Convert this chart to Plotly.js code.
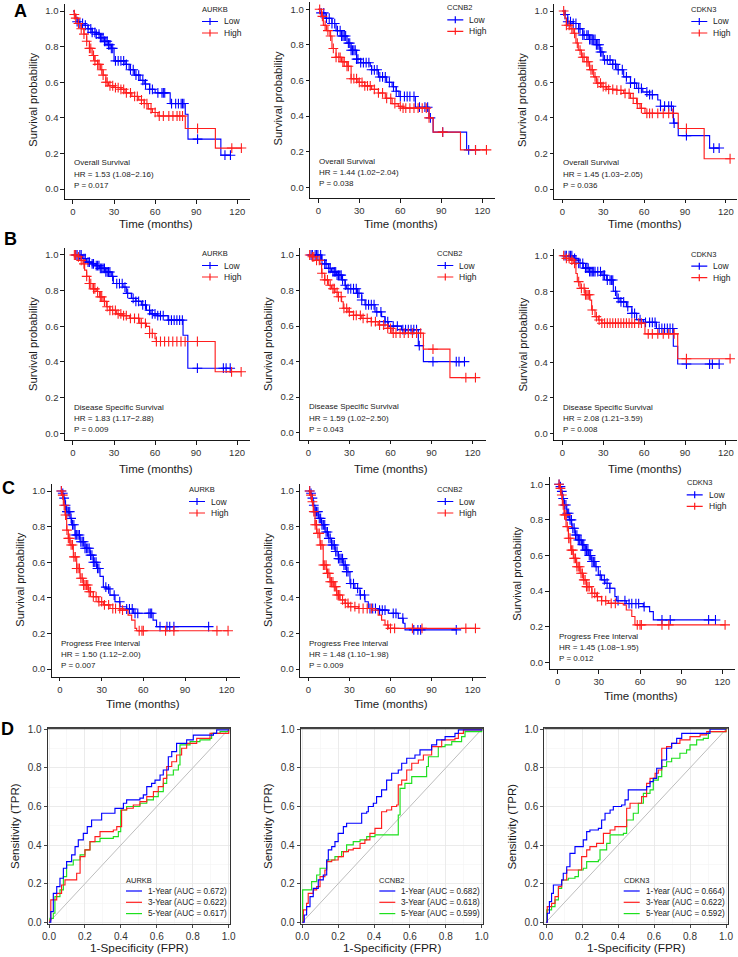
<!DOCTYPE html>
<html><head><meta charset="utf-8">
<script src="https://cdn.plot.ly/plotly-3.0.1.min.js"></script>
<style>html,body{margin:0;padding:0;background:#fff}#chart{width:738px;height:957px}</style>
</head><body><div id="chart"></div>
<script>
// ===================== DATA =====================
// Kaplan-Meier step curves: times (months), survival, censor times
// Row A: Overall Survival
const A_AURKB_low_t = [0,1,2,3,5,8,11,14,17,20,23,26,28,30,38,41,45,49,52,56,60,71,82,84,108];
const A_AURKB_low_s = [1,0.98,0.96,0.94,0.93,0.92,0.90,0.88,0.87,0.85,0.83,0.81,0.79,0.72,0.70,0.67,0.64,0.61,0.59,0.56,0.54,0.48,0.42,0.28,0.19];
const A_AURKB_low_c = [3,5,7,9,11,13,14,16,17,19,20,21,22,23,24,25,26,27,28,29,31,33,35,37,39,42,44,46,48,51,53,56,58,62,65,66,67,72,75,77,79,80,81,91,111,115];
const A_AURKB_high_t = [0,1,2,4,6,8,10,12,14,16,18,20,22,24,26,30,35,38,43,48,52,55,58,62,82,104];
const A_AURKB_high_s = [1,0.98,0.96,0.93,0.90,0.87,0.83,0.79,0.75,0.72,0.70,0.67,0.64,0.60,0.58,0.57,0.56,0.54,0.52,0.50,0.48,0.45,0.43,0.41,0.34,0.23];
const A_AURKB_high_c = [1,2,4,6,8,10,12,13,15,16,18,19,21,22,24,25,27,29,31,33,35,37,39,42,45,47,50,52,54,57,60,63,66,70,73,76,78,80,91,116,123];

const A_CCNB2_low_t = [0,1,5,10,13,17,21,24,28,31,38,39,44,50,54,57,59,71,81,84,108.5];
const A_CCNB2_low_s = [1,0.98,0.95,0.92,0.88,0.85,0.81,0.77,0.72,0.70,0.68,0.66,0.62,0.59,0.565,0.54,0.51,0.45,0.39,0.31,0.21];
const A_CCNB2_low_c = [2,4,6,8,10,12,14,16,17,18,19,20,22,23,24,25,26,27,28,29,31,33,35,37,39,41,43,45,47,49,52,55,57,60,63,65,67,70,74,78,80,82,91,110,115];
const A_CCNB2_high_t = [0,2.4,3.7,6,8.5,10,13,17,21,24,29,34,39,44,49,54,58.5,62,81,84,104];
const A_CCNB2_high_s = [1,0.96,0.91,0.88,0.85,0.78,0.73,0.705,0.68,0.61,0.59,0.57,0.55,0.53,0.50,0.47,0.455,0.445,0.39,0.31,0.21];
const A_CCNB2_high_c = [1,3,5,7,9,11,13,15,16,18,19,21,22,24,26,28,30,32,34,36,38,41,44,47,50,53,56,60,62,64,67,70,73,76,79,81,91,115,123];

const A_CDKN3_low_t = [0,2,4,8,12,15,20,25,27.6,30,37,40,45,50,54.5,59,64,70,72,81.5,85,108];
const A_CDKN3_low_s = [1,0.98,0.94,0.93,0.90,0.865,0.84,0.81,0.77,0.725,0.70,0.67,0.63,0.595,0.565,0.545,0.53,0.50,0.465,0.37,0.30,0.23];
const A_CDKN3_low_c = [2,4,6,8,10,12,13,15,16,18,19,20,21,22,23,24,25,26,27,28,29,31,33,35,37,39,41,44,47,50,53,56,58,62,64,66,72,75,78,80,82,91,111,115];
const A_CDKN3_high_t = [0,2,3,5.6,8,10,11.7,14,18,20,23,25,29,32.5,40,45,50,54.5,57,60.6,85,104];
const A_CDKN3_high_s = [1,0.96,0.92,0.90,0.875,0.82,0.78,0.74,0.715,0.67,0.63,0.595,0.575,0.56,0.555,0.537,0.51,0.48,0.453,0.425,0.34,0.17];
const A_CDKN3_high_c = [1,3,5,7,9,11,13,15,16,18,19,21,22,24,26,28,30,32,34,37,40,43,46,49,52,55,58,62,64,66,70,74,78,81,91,123];

// Row B: Disease Specific Survival
const B_AURKB_low_t = [0,7,10,14,17,19.5,24,28,29.5,36.6,39,42.7,46,50,53.7,57,62,69.5,80.5,84];
const B_AURKB_low_s = [1,0.98,0.96,0.95,0.94,0.925,0.905,0.88,0.84,0.82,0.785,0.757,0.74,0.72,0.69,0.67,0.66,0.635,0.55,0.365];
const B_AURKB_low_c = [2,3,5,6,8,9,11,12,14,15,17,18,19,20,21,22,23,24,25,26,27,29,32,34,36,38,40,44,46,48,51,53,56,58,60,62,64,66,70,72,74,76,78,80,91,110,112,115];
const B_AURKB_high_t = [0,3.7,6,7.3,8.5,10,12,14.6,17,19.5,22,24.4,27,31.7,36.6,41.5,48.8,53.7,56,60,61,104];
const B_AURKB_high_s = [1,0.99,0.97,0.95,0.915,0.88,0.84,0.81,0.795,0.765,0.74,0.71,0.69,0.67,0.66,0.645,0.617,0.60,0.56,0.53,0.515,0.345];
const B_AURKB_high_c = [1,2,4,6,8,10,12,13,15,16,18,20,21,23,25,27,29,31,33,35,37,39,42,45,48,50,53,56,58,61,64,67,70,73,76,79,82,91,116,123];

const B_CCNB2_low_t = [0,9.7,12,14.6,17,20.7,24.3,26.8,28,35.3,39,41.4,48.7,53.5,56,58.4,68,80.3,84];
const B_CCNB2_low_s = [1,0.97,0.95,0.925,0.905,0.887,0.86,0.83,0.81,0.785,0.747,0.72,0.68,0.653,0.625,0.60,0.58,0.49,0.40];
const B_CCNB2_low_c = [2,3,5,6,7,9,10,12,13,15,16,18,19,20,21,22,23,24,25,27,29,31,33,35,36,37,39,42,44,46,48,50,53,56,58,62,65,69,71,73,75,77,79,81,91,108,110,114];
const B_CCNB2_high_t = [0,2.4,6,8.5,9.7,12,14.6,17,19.5,22,24.3,25.5,29,33,39,46,51,58,61,84,103.4];
const B_CCNB2_high_s = [1,0.99,0.97,0.95,0.897,0.86,0.83,0.81,0.79,0.765,0.737,0.70,0.68,0.66,0.643,0.625,0.606,0.587,0.56,0.47,0.31];
const B_CCNB2_high_c = [1,3,4,6,8,10,12,14,16,18,19,21,22,24,26,28,30,33,35,38,40,43,46,49,52,55,58,60,62,64,67,70,73,76,79,82,91,115,122];

const B_CDKN3_low_t = [0,8,9.3,11.7,15.4,20,29,32.5,37.4,40,42.3,47,51,54.5,59.4,69,81.4,84.6];
const B_CDKN3_low_s = [1,0.985,0.975,0.957,0.93,0.91,0.89,0.863,0.80,0.76,0.74,0.713,0.675,0.64,0.625,0.59,0.49,0.39];
const B_CDKN3_low_c = [2,3,5,6,7,9,10,12,13,15,17,18,19,20,21,22,23,24,26,28,30,31,33,35,36,37,39,41,43,45,48,51,53,57,61,64,66,68,71,73,75,77,79,81,91,108,110,115];
const B_CDKN3_high_t = [0,3,5.6,8,10,11,13,16.6,20.3,21.5,24,26.4,29,60.6,84.6];
const B_CDKN3_high_s = [1,0.985,0.975,0.957,0.90,0.854,0.816,0.78,0.75,0.694,0.657,0.638,0.62,0.56,0.42];
const B_CDKN3_high_c = [1,3,5,7,9,12,14,16,17,18,19,20,22,25,27,29,31,33,35,37,39,41,43,45,47,49,51,53,56,58,63,66,70,74,78,82,91,123];

// Row C: Progress Free Interval
const C_AURKB_low_t = [0,1.2,2.4,3.6,4.8,7.2,8.4,10.8,14.4,18,21.6,24,26.4,28.8,31.2,33.6,36,39.6,43.2,48,52.8,67,69.5];
const C_AURKB_low_s = [1,0.987,0.96,0.92,0.884,0.846,0.81,0.753,0.715,0.678,0.64,0.60,0.565,0.52,0.46,0.45,0.415,0.378,0.35,0.337,0.313,0.275,0.238];
const C_AURKB_low_c = [1,2,3,4,5,6,7,8,9,10,11,12,13,14,15,16,17,18,19,20,21,22,23,24,25,26,27,28,33,35,39,43,48,50,52,54,56,64,65,66,72,77,79,82,107];
const C_AURKB_high_t = [0,1.2,2.4,3.6,4.8,6,7.2,9.6,12,14.4,16.8,20.4,24,27.6,31.2,36,43.2,49,51.6,54,55.2];
const C_AURKB_high_s = [1,0.977,0.92,0.865,0.78,0.734,0.697,0.63,0.565,0.51,0.472,0.434,0.406,0.378,0.36,0.34,0.331,0.303,0.275,0.228,0.215];
const C_AURKB_high_c = [1,2,3,4,5,6,7,8,9,10,11,12,13,14,15,16,17,18,19,20,21,22,24,26,28,30,32,35,38,40,43,45,57,59,60,76,82,113,121];

const C_CCNB2_low_t = [0,1.2,2.4,3.6,4.9,7.3,9.7,12.2,14.6,17,19.5,22,25.5,28,30.4,34,37.7,41.4,43.8,51,58.4,65.7,69.3,70.6];
const C_CCNB2_low_s = [1,0.987,0.96,0.92,0.884,0.846,0.81,0.77,0.734,0.697,0.66,0.62,0.584,0.547,0.48,0.453,0.416,0.378,0.34,0.331,0.313,0.285,0.257,0.22];
const C_CCNB2_low_c = [1,2,3,4,5,6,7,8,9,10,11,12,13,14,15,16,17,18,19,20,21,22,23,24,25,26,27,28,29,31,33,36,38,41,45,47,49,52,54,56,62,64,69,77,80,82,108];
const C_CCNB2_high_t = [0,1.2,2.4,3.6,4.9,6.1,8.5,10.9,13.4,15.8,18.2,20.7,23.1,26.8,29.2,36.5,46.2,51,53.5,56,58.4];
const C_CCNB2_high_s = [1,0.977,0.94,0.884,0.81,0.762,0.697,0.584,0.537,0.49,0.463,0.416,0.388,0.369,0.35,0.34,0.331,0.303,0.275,0.247,0.228];
const C_CCNB2_high_c = [1,2,3,4,5,6,7,8,9,10,11,12,13,14,15,16,17,18,19,20,21,22,23,25,27,29,31,34,37,40,43,46,58,60,63,76,83,115,122];

const C_CDKN3_low_t = [0,1.2,2.2,3.4,4.6,6.6,8.5,10.2,12.6,15,17.5,20,22.3,24.8,27.2,29.6,32,34.5,38,41.7,43,50,62.4,67,69.7];
const C_CDKN3_low_s = [1,0.987,0.96,0.92,0.884,0.837,0.80,0.753,0.715,0.687,0.66,0.63,0.60,0.566,0.537,0.49,0.463,0.444,0.416,0.369,0.346,0.33,0.313,0.285,0.238];
const C_CDKN3_low_c = [1,2,3,4,5,6,7,8,9,10,11,12,13,14,15,16,17,18,19,20,21,22,23,24,25,26,27,28,31,34,36,38,44,49,52,54,57,59,63,76,82,110,115];
const C_CDKN3_high_t = [0,1.2,2.2,3.4,4.6,6.1,7.8,9.5,11.4,13.8,16.3,18.7,21,24.8,28.4,32,37,47.8,50,54,56.3];
const C_CDKN3_high_s = [1,0.977,0.94,0.884,0.828,0.762,0.697,0.63,0.584,0.537,0.50,0.463,0.425,0.388,0.369,0.346,0.331,0.322,0.294,0.257,0.21];
const C_CDKN3_high_c = [1,2,3,4,5,6,7,8,9,10,11,12,13,14,15,16,17,18,19,20,21,22,23,25,27,29,32,35,39,42,58,60,61,76,81,122];

const kmGenes = ['AURKB','CCNB2','CDKN3','AURKB','CCNB2','CDKN3','AURKB','CCNB2','CDKN3'];
const kmEndpoints = ['Overall Survival','Overall Survival','Overall Survival','Disease Specific Survival','Disease Specific Survival','Disease Specific Survival','Progress Free Interval','Progress Free Interval','Progress Free Interval'];
const kmHR = ['HR = 1.53 (1.08\u22122.16)','HR = 1.44 (1.02\u22122.04)','HR = 1.45 (1.03\u22122.05)','HR = 1.83 (1.17\u22122.88)','HR = 1.59 (1.02\u22122.50)','HR = 2.08 (1.21\u22123.59)','HR = 1.50 (1.12\u22122.00)','HR = 1.48 (1.10\u22121.98)','HR = 1.45 (1.08\u22121.95)'];
const kmP = ['P = 0.017','P = 0.038','P = 0.036','P = 0.009','P = 0.043','P = 0.008','P = 0.007','P = 0.009','P = 0.012'];
const groupLabels = ['Low','High'];
const kmXTicks = [0,30,60,90,120];
const probTicks = [0,0.2,0.4,0.6,0.8,1.0];

// Row D: time-dependent ROC curves (FPR, TPR)
const D_AURKB_1y_fpr = [0,0.01,0.024,0.043,0.061,0.08,0.098,0.126,0.145,0.163,0.191,0.213,0.237,0.293,0.34,0.367,0.414,0.432,0.506,0.525,0.544,0.571,0.59,0.618,0.636,0.664,0.683,0.71,0.766,0.803,0.915,0.933,1];
const D_AURKB_1y_tpr = [0,0.055,0.15,0.185,0.228,0.28,0.314,0.349,0.392,0.427,0.461,0.496,0.53,0.565,0.565,0.59,0.617,0.634,0.643,0.66,0.703,0.72,0.737,0.763,0.789,0.858,0.884,0.927,0.945,0.97,0.979,0.997,1];
const D_AURKB_3y_fpr = [0,0.005,0.01,0.033,0.043,0.07,0.089,0.135,0.154,0.173,0.2,0.228,0.256,0.284,0.358,0.377,0.395,0.404,0.432,0.469,0.506,0.544,0.581,0.608,0.636,0.655,0.683,0.71,0.738,0.766,0.822,0.896,1];
const D_AURKB_3y_tpr = [0,0.012,0.116,0.116,0.15,0.193,0.22,0.22,0.254,0.34,0.375,0.418,0.444,0.47,0.478,0.496,0.496,0.582,0.591,0.608,0.625,0.651,0.677,0.703,0.746,0.807,0.832,0.867,0.902,0.927,0.953,0.979,1];
const D_AURKB_5y_fpr = [0,0.005,0.024,0.033,0.061,0.08,0.098,0.135,0.173,0.2,0.228,0.265,0.284,0.358,0.386,0.399,0.432,0.506,0.544,0.581,0.608,0.636,0.655,0.692,0.72,0.729,0.785,0.84,0.896,0.905,0.952,1];
const D_AURKB_5y_tpr = [0,0.02,0.047,0.133,0.168,0.237,0.297,0.323,0.349,0.375,0.418,0.418,0.435,0.444,0.47,0.582,0.6,0.617,0.634,0.651,0.677,0.72,0.763,0.789,0.815,0.919,0.936,0.945,0.953,0.979,0.988,1];

const D_CCNB2_1y_fpr = [0,0.011,0.024,0.043,0.061,0.089,0.117,0.136,0.145,0.164,0.182,0.2,0.229,0.247,0.312,0.331,0.359,0.368,0.396,0.414,0.442,0.47,0.498,0.535,0.554,0.582,0.628,0.656,0.703,0.721,0.749,0.796,0.851,0.87,1];
const D_CCNB2_1y_tpr = [0,0.038,0.081,0.133,0.176,0.22,0.245,0.323,0.375,0.392,0.418,0.461,0.496,0.513,0.513,0.565,0.573,0.6,0.617,0.651,0.686,0.737,0.772,0.789,0.824,0.85,0.867,0.893,0.893,0.919,0.945,0.962,0.979,0.997,1];
const D_CCNB2_3y_fpr = [0,0.006,0.024,0.033,0.061,0.08,0.099,0.126,0.136,0.164,0.2,0.229,0.257,0.284,0.322,0.349,0.377,0.405,0.442,0.47,0.498,0.526,0.535,0.554,0.582,0.61,0.647,0.675,0.721,0.777,0.851,0.87,0.898,1];
const D_CCNB2_3y_tpr = [0,0.064,0.098,0.15,0.168,0.185,0.237,0.271,0.314,0.323,0.34,0.366,0.375,0.383,0.409,0.427,0.461,0.487,0.573,0.582,0.6,0.608,0.712,0.737,0.789,0.824,0.841,0.867,0.91,0.945,0.953,0.979,0.997,1];
const D_CCNB2_5y_fpr = [0,0.002,0.033,0.052,0.08,0.099,0.126,0.136,0.182,0.219,0.247,0.284,0.322,0.359,0.405,0.535,0.545,0.572,0.61,0.628,0.693,0.703,0.758,0.796,0.833,0.888,0.907,1];
const D_CCNB2_5y_tpr = [0,0.168,0.168,0.211,0.245,0.28,0.28,0.323,0.34,0.366,0.401,0.418,0.427,0.444,0.453,0.556,0.694,0.72,0.755,0.755,0.807,0.858,0.91,0.919,0.936,0.962,0.988,1];

const D_CDKN3_1y_fpr = [0,0.007,0.019,0.031,0.041,0.069,0.087,0.096,0.115,0.133,0.161,0.189,0.207,0.226,0.244,0.291,0.309,0.328,0.356,0.374,0.42,0.439,0.457,0.531,0.559,0.578,0.596,0.615,0.643,0.67,0.698,0.726,0.754,0.893,0.911,1];
const D_CDKN3_1y_tpr = [0,0.047,0.107,0.15,0.193,0.193,0.219,0.254,0.288,0.357,0.392,0.392,0.427,0.47,0.478,0.487,0.53,0.565,0.582,0.6,0.608,0.634,0.686,0.686,0.703,0.729,0.746,0.798,0.841,0.902,0.927,0.953,0.979,0.979,1,1];
const D_CDKN3_3y_fpr = [0,0.007,0.031,0.05,0.069,0.087,0.115,0.17,0.198,0.226,0.244,0.281,0.319,0.356,0.383,0.43,0.448,0.467,0.513,0.531,0.559,0.578,0.606,0.624,0.643,0.67,0.698,0.744,0.8,0.856,0.893,1];
const D_CDKN3_3y_tpr = [0,0.081,0.098,0.133,0.185,0.219,0.271,0.271,0.34,0.375,0.392,0.409,0.461,0.478,0.496,0.496,0.591,0.617,0.617,0.651,0.72,0.746,0.772,0.789,0.902,0.91,0.927,0.945,0.962,0.971,0.988,1];
const D_CDKN3_5y_fpr = [0,0.004,0.031,0.05,0.069,0.087,0.124,0.161,0.18,0.207,0.226,0.291,0.3,0.337,0.356,0.43,0.448,0.485,0.513,0.541,0.578,0.596,0.624,0.643,0.67,0.698,0.744,0.781,0.8,0.837,0.874,0.902,1];
const D_CDKN3_5y_tpr = [0,0.064,0.081,0.116,0.176,0.219,0.228,0.237,0.271,0.28,0.314,0.323,0.375,0.409,0.453,0.461,0.53,0.565,0.617,0.668,0.686,0.737,0.755,0.807,0.832,0.85,0.876,0.893,0.919,0.945,0.953,0.988,1];

const rocGenes = ['AURKB','CCNB2','CDKN3'];
const rocYearLabels = ['1-Year','3-Year','5-Year'];
const rocAUC = [[0.672,0.622,0.617],[0.682,0.618,0.599],[0.664,0.622,0.592]];
const diagLine = [0,1];

// ===================== BUILD =====================
const W = 738, H = 957;
const X = p => p / W, Y = p => 1 - p / H;
const FONT = 'Liberation Sans, Arial, Helvetica, sans-serif';
const BLUE = '#0000FF', RED = '#FF1E1E', GREEN = '#1EE01E';
const TXT = '#1a1a1a', TICK = '#333333';

const kmData = [
  [A_AURKB_low_t,A_AURKB_low_s,A_AURKB_low_c,A_AURKB_high_t,A_AURKB_high_s,A_AURKB_high_c],
  [A_CCNB2_low_t,A_CCNB2_low_s,A_CCNB2_low_c,A_CCNB2_high_t,A_CCNB2_high_s,A_CCNB2_high_c],
  [A_CDKN3_low_t,A_CDKN3_low_s,A_CDKN3_low_c,A_CDKN3_high_t,A_CDKN3_high_s,A_CDKN3_high_c],
  [B_AURKB_low_t,B_AURKB_low_s,B_AURKB_low_c,B_AURKB_high_t,B_AURKB_high_s,B_AURKB_high_c],
  [B_CCNB2_low_t,B_CCNB2_low_s,B_CCNB2_low_c,B_CCNB2_high_t,B_CCNB2_high_s,B_CCNB2_high_c],
  [B_CDKN3_low_t,B_CDKN3_low_s,B_CDKN3_low_c,B_CDKN3_high_t,B_CDKN3_high_s,B_CDKN3_high_c],
  [C_AURKB_low_t,C_AURKB_low_s,C_AURKB_low_c,C_AURKB_high_t,C_AURKB_high_s,C_AURKB_high_c],
  [C_CCNB2_low_t,C_CCNB2_low_s,C_CCNB2_low_c,C_CCNB2_high_t,C_CCNB2_high_s,C_CCNB2_high_c],
  [C_CDKN3_low_t,C_CDKN3_low_s,C_CDKN3_low_c,C_CDKN3_high_t,C_CDKN3_high_s,C_CDKN3_high_c]
];
const rocData = [
  [[D_AURKB_1y_fpr,D_AURKB_1y_tpr],[D_AURKB_3y_fpr,D_AURKB_3y_tpr],[D_AURKB_5y_fpr,D_AURKB_5y_tpr]],
  [[D_CCNB2_1y_fpr,D_CCNB2_1y_tpr],[D_CCNB2_3y_fpr,D_CCNB2_3y_tpr],[D_CCNB2_5y_fpr,D_CCNB2_5y_tpr]],
  [[D_CDKN3_1y_fpr,D_CDKN3_1y_tpr],[D_CDKN3_3y_fpr,D_CDKN3_3y_tpr],[D_CDKN3_5y_fpr,D_CDKN3_5y_tpr]]
];

// panel geometry (pixels): x=0 position, px per month, y=1 / y=0 positions, x-axis line, x-title y
const kmGeo = [
  {px0:73,    s:1.369, py1:11,    py0:189,   bot:199.5, xt:224},
  {px0:318.3, s:1.367, py1:9.3,   py0:187.3, bot:198.5, xt:223.5},
  {px0:562.3, s:1.364, py1:11,    py0:189,   bot:199,   xt:223.5},
  {px0:73,    s:1.367, py1:255,   py0:433.3, bot:440.5, xt:469},
  {px0:308.3, s:1.370, py1:255,   py0:432.7, bot:440,   xt:469},
  {px0:562.3, s:1.364, py1:255.7, py0:433.3, bot:440.5, xt:469},
  {px0:60,    s:1.389, py1:491,   py0:669,   bot:677,   xt:704},
  {px0:308.3, s:1.370, py1:491,   py0:669,   bot:677,   xt:704},
  {px0:557.7, s:1.372, py1:484.3, py0:662.3, bot:669.5, xt:695.5}
];
const rocGeo = [
  {left:47.7,  x0:49,    x1:228.7},
  {left:300.7, x0:302.3, x1:481.7},
  {left:544.3, x0:546,   x1:726}
];
const rocTop = 728.3, rocBot = 924.3, rocY1 = 729.3, rocY0 = 922.3;

const layout = {
  width: W, height: H, margin: {l:0, r:0, t:0, b:0},
  paper_bgcolor: '#ffffff', plot_bgcolor: 'rgba(0,0,0,0)',
  showlegend: false, font: {family: FONT, color: TXT},
  annotations: [], shapes: []
};
const traces = [];
const sfx = n => n === 1 ? '' : String(n);

function txt(x, y, text, size, extra) {
  layout.annotations.push(Object.assign({
    xref:'paper', yref:'paper', x:X(x), y:Y(y), text:text, showarrow:false,
    font:{family:FONT, size:size, color:TXT}, xanchor:'left', yanchor:'middle', borderpad:0
  }, extra || {}));
}
function stepAt(t, s, x) {
  let v = s[0];
  for (let i = 0; i < t.length; i++) { if (t[i] <= x) v = s[i]; else break; }
  return v;
}
function legendLine(x1, x2, y, color, plus) {
  let p = `M${X(x1)},${Y(y)} L${X(x2)},${Y(y)}`;
  if (plus) { const xm = (x1 + x2) / 2; p += ` M${X(xm)},${Y(y - 3.5)} L${X(xm)},${Y(y + 3.5)}`; }
  layout.shapes.push({type:'path', xref:'paper', yref:'paper', path:p, line:{color:color, width:1.2}});
}

// ---------- KM panels ----------
kmGeo.forEach((g, k) => {
  const n = k + 1, sx = sfx(n);
  const xmax = Math.min(129.5, (737 - g.px0) / g.s);
  const left = g.px0 - 6 * g.s, right = g.px0 + xmax * g.s;
  const yu = g.py0 - g.py1;
  const ymin = -(g.bot - g.py0) / yu, ymax = 1.04;
  const top = g.py1 - 0.04 * yu;
  const axCommon = {
    showline:true, linecolor:'#000', linewidth:0.9, ticks:'outside', ticklen:3.5, tickwidth:0.9, tickcolor:'#000',
    showgrid:false, zeroline:false, fixedrange:true, tickfont:{family:FONT, size:9.5, color:TICK}
  };
  layout['xaxis' + sx] = Object.assign({}, axCommon, {domain:[X(left), X(right)], range:[-6, xmax], anchor:'y' + sx,
    tickvals:kmXTicks, ticktext:kmXTicks.map(String)});
  layout['yaxis' + sx] = Object.assign({}, axCommon, {domain:[Y(g.bot), Y(top)], range:[ymin, ymax], anchor:'x' + sx,
    tickvals:probTicks, ticktext:probTicks.map(v => v.toFixed(1))});

  const d = kmData[k];
  [[d[0], d[1], d[2], BLUE], [d[3], d[4], d[5], RED]].forEach(([T, S, C, col]) => {
    const end = Math.max(T[T.length - 1], Math.max.apply(null, C));
    traces.push({type:'scatter', mode:'lines', x:T.concat([end]), y:S.concat([S[S.length - 1]]),
      line:{shape:'hv', color:col, width:1.15}, xaxis:'x' + sx, yaxis:'y' + sx, hoverinfo:'skip'});
    traces.push({type:'scatter', mode:'markers', x:C, y:C.map(t => stepAt(T, S, t)),
      marker:{symbol:'cross-thin', size:7, color:col, line:{width:1.1, color:col}},
      xaxis:'x' + sx, yaxis:'y' + sx, hoverinfo:'skip'});
  });

  // stats text
  txt(g.px0, g.py0 - 26, kmEndpoints[k], 8);
  txt(g.px0, g.py0 - 14.5, kmHR[k], 8);
  txt(g.px0, g.py0 - 3.5, kmP[k], 8);
  // legend
  const L = g.px0 + 128, Ty = g.py1 - 1.5;
  txt(L, Ty, kmGenes[k], 7.5);
  [BLUE, RED].forEach((col, i) => {
    const yy = Ty + 12 + i * 11.5;
    legendLine(L + 1, L + 17, yy, col, true);
    txt(L + 22, yy, groupLabels[i], 8.5);
  });
  // axis titles
  txt(left - 32, (g.py0 + g.py1) / 2, 'Survival probability', 11.2, {xanchor:'center', textangle:-90});
  txt(g.px0 + 83, g.xt, 'Time (months)', 11.5, {xanchor:'center'});
});

// ---------- ROC panels ----------
rocGeo.forEach((g, r) => {
  const n = 10 + r, sx = sfx(n);
  const sc = g.x1 - g.x0;
  const right = g.x1 + (g.x0 - g.left);
  const ysc = rocY0 - rocY1;
  const axCommon = {
    showline:true, mirror:true, linecolor:'#333', linewidth:1, ticks:'outside', ticklen:3, tickwidth:0.9, tickcolor:'#333',
    showgrid:true, gridcolor:'#E6E6E6', gridwidth:0.8, zeroline:false, fixedrange:true,
    tick0:0, dtick:0.2, tickformat:'.1f', tickfont:{family:FONT, size:10, color:TICK},
    minor:{dtick:0.1, showgrid:true, gridcolor:'#F2F2F2', gridwidth:0.5, ticks:''}
  };
  layout['xaxis' + sx] = Object.assign({}, axCommon, {domain:[X(g.left), X(right)],
    range:[(g.left - g.x0) / sc, (right - g.x0) / sc], anchor:'y' + sx});
  layout['yaxis' + sx] = Object.assign({}, axCommon, {domain:[Y(rocBot), Y(rocTop)],
    range:[(rocY0 - rocBot) / ysc, (rocY0 - rocTop) / ysc], anchor:'x' + sx});

  traces.push({type:'scatter', mode:'lines', x:diagLine, y:diagLine, line:{color:'#BDBDBD', width:1},
    xaxis:'x' + sx, yaxis:'y' + sx, hoverinfo:'skip'});
  const cols = [BLUE, RED, GREEN];
  [2, 1, 0].forEach(i => {
    const [fx, ty] = rocData[r][i];
    traces.push({type:'scatter', mode:'lines', x:fx, y:ty, line:{shape:'hv', color:cols[i], width:1.15},
      xaxis:'x' + sx, yaxis:'y' + sx, hoverinfo:'skip'});
  });
  layout.shapes.push({type:'line', xref:'paper', yref:'paper', x0:X(g.left), x1:X(right), y0:Y(rocTop), y1:Y(rocTop),
    line:{color:'#444', width:2}});
  const L = right - 105;
  layout.shapes.push({type:'rect', xref:'paper', yref:'paper', x0:X(L - 5), x1:X(right - 2), y0:Y(920), y1:Y(872),
    fillcolor:'#ffffff', line:{width:0}, layer:'between'});
  txt(L, 880, rocGenes[r], 7.5);
  cols.forEach((col, i) => {
    const yy = 891 + i * 11.3;
    legendLine(L + 1, L + 17, yy, col, false);
    txt(L + 22, yy, `${rocYearLabels[i]} (AUC = ${rocAUC[r][i].toFixed(3)})`, 8.2);
  });
  txt(g.left - 32, (rocTop + rocBot) / 2, 'Sensitivity (TPR)', 11.5, {xanchor:'center', textangle:-90});
  txt((g.left + right) / 2, 947.5, '1-Specificity (FPR)', 11.8, {xanchor:'center'});
});

// panel letters
const LETTER_FONT = 'Liberation Sans Narrow, Liberation Sans, Arial, sans-serif';
[['A', 20.5, 11.5], ['B', 10, 238.5], ['C', 8.5, 488], ['D', 7, 728.5]].forEach(([t, x, y]) => {
  txt(x, y, '<b>' + t + '</b>', 18, {xanchor:'center', font:{family:LETTER_FONT, size:18, color:'#000'}});
});

Plotly.newPlot('chart', traces, layout, {staticPlot:true, displayModeBar:false});
</script>
</body></html>
